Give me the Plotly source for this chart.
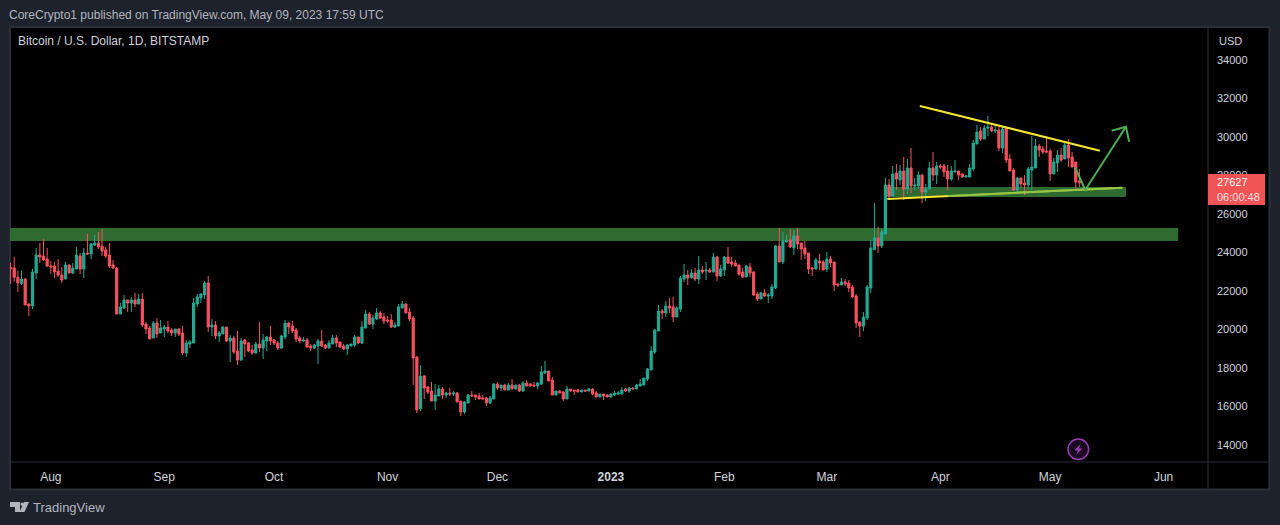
import pandas as pd
import plotly.graph_objects as go

START_DATE = "2022-07-21"

open_ = [
 23230,23195,22710,22398,22623,21324,21220,22935,23870,23818,
 23663,23299,23299,23039,22831,22623,23351,22935,23143,23818,
 23143,23974,23922,24390,24494,24338,24130,23870,23351,23195,
 20805,21116,21532,21376,21532,21324,21584,20285,20077,19558,
 20337,19818,20025,20129,19974,19818,20025,19818,18778,19246,
 19298,21324,21636,21792,22415,20129,20233,19662,19766,20129,
 19402,19558,18882,18415,19454,19298,18934,18778,19246,19038,
 19402,19610,19454,19298,19038,19610,20337,20181,19973,19558,
 19402,19454,19142,19038,19142,19402,19194,19038,19246,19558,
 19350,19142,18986,19142,19194,19610,19298,20077,20805,20285,
 20545,20857,20649,20493,20493,20129,20181,21117,21324,20909,
 20597,18570,15869,17584,17012,16805,16285,16545,16909,16597,
 16701,16649,16701,16285,15713,16181,16597,16597,16545,16441,
 16441,16181,16389,17168,16961,17116,16857,17116,16909,17116,
 16805,17220,17168,17116,17064,17168,17740,17844,17376,16597,
 16805,16753,16389,16909,16857,16857,16753,16857,16805,16909,
 16701,16493,16649,16597,16493,16597,16649,16649,16909,16805,
 16961,16909,17064,17116,17428,17896,18831,19922,20961,20857,
 21220,21168,20649,21065,22623,22831,22675,22935,22623,23091,
 23039,23091,22987,23766,22779,23091,23766,23507,23455,23351,
 22987,22727,23247,22987,21844,21584,21896,21740,21740,22156,
 24338,23507,24546,24650,24234,24858,24494,24234,23974,23195,
 23143,23559,23507,23143,23663,23507,22364,22312,22467,22415,
 22208,21740,20389,20181,20597,22156,24150,24752,24336,24960,
 27506,26934,28130,27766,28233,27298,28389,27454,27454,28025,
 27142,27298,28389,28025,28493,28493,28233,27818,28181,28233,
 28077,27921,27921,28337,29636,30312,29896,30467,30519,30312,
 30364,29428,30467,28857,28285,27246,27870,27610,27506,28285,
 28389,29532,29376,29272,29272,28077,28649,29065,28857,29584,
 28961,28701,27714]

high = [
 23472,23784,23056,23056,22675,21359,23143,24234,24494,24702,
 24234,23559,23507,23663,23247,23507,23403,23455,24286,23974,
 24234,24962,24494,24910,25065,25221,24286,24494,23611,23247,
 21376,21792,21532,21688,21896,21844,21896,20389,20181,20441,
 20597,20493,20233,20441,20077,20025,20077,20181,19454,19454,
 21636,21844,21896,22519,22779,20545,20441,19921,20181,20129,
 19714,19662,19921,19558,19506,19350,19194,19350,20389,19766,
 19662,20181,19506,19402,19714,20493,20389,20441,20077,19662,
 19610,19558,19246,19246,19506,19973,19246,19454,19714,19714,
 19350,19246,19246,19246,19714,19610,20441,21013,20909,20753,
 21117,20961,20857,20701,20805,20389,21324,21480,21376,21117,
 20701,18622,18155,17636,17065,17272,17168,17116,17012,16753,
 16961,16805,16753,16285,16285,16649,16805,16597,16701,16597,
 16493,16545,17220,17272,17116,17168,17220,17428,17116,17168,
 17324,17376,17220,17272,17272,18104,18363,17844,17532,16805,
 16857,16805,17064,16909,16857,16909,16857,16857,16961,16961,
 16805,16649,16649,16649,16649,16805,16805,17012,16961,17012,
 17012,17168,17428,17480,18000,19143,20026,21273,21065,21480,
 21636,21688,21220,22779,23403,23091,23143,23195,23818,23299,
 23507,23195,23974,23818,23351,23818,24286,23766,23611,23351,
 23195,23351,23455,23039,21948,21948,22104,21896,22364,24390,
 25273,25065,24910,25221,25169,25273,24494,24598,23974,23247,
 23715,23922,23611,24026,23818,23507,22415,22675,22623,22571,
 22312,21844,20389,20909,22312,24650,26570,25323,25220,27870,
 27818,28493,28597,28545,28961,28857,29428,27870,28233,28077,
 27558,28701,29220,28701,28597,28597,28545,28493,28805,28233,
 28129,28025,28597,29844,30623,30519,30623,31091,30727,30623,
 30519,30519,30519,29117,28389,27922,27870,28025,28441,30052,
 29896,29636,29532,30052,29376,28909,29324,29428,29792,29896,
 29220,28701,28337]

low = [
 22364,22485,21948,22312,21272,20701,21065,22623,23455,23559,
 23247,22883,22675,22727,22415,22623,22935,22883,23143,22883,
 22675,23870,23663,24338,24182,23818,23715,23195,23143,20805,
 20805,21065,20909,20909,21168,21324,20129,19766,19506,19558,
 19558,19818,19610,19818,19662,19610,19662,18674,18570,19038,
 19298,21168,21376,21584,19870,19662,19506,19350,19766,19350,
 18311,18726,18155,18363,18570,18830,18674,18726,18830,18467,
 18882,19194,19194,18934,18986,19506,19766,19818,19350,19298,
 19350,19038,18882,18986,18207,19090,18986,19038,19246,19090,
 19038,18934,18674,19142,19090,19246,19246,20077,20233,20025,
 20493,20545,20285,20337,20077,20077,20181,21117,20857,20441,
 17115,15661,15765,16389,16649,16285,15817,16545,16389,16441,
 16545,16545,16233,15506,15609,16181,16493,16337,16389,16389,
 16025,16129,16389,16857,16805,16857,16857,16909,16909,16753,
 16753,17064,17064,17064,16909,17116,17688,17324,16597,16597,
 16701,16285,16389,16753,16597,16753,16753,16753,16805,16597,
 16493,16493,16337,16493,16493,16545,16597,16649,16753,16701,
 16909,16909,17064,17116,17324,17896,18727,19922,20545,20649,
 20857,20389,20649,20909,22467,22312,22675,22519,22364,22883,
 22571,22935,22987,22519,22727,22779,23403,23247,23299,22779,
 22675,22727,22727,21740,21480,21584,21688,21376,21584,22104,
 23507,23403,24494,24234,23870,24182,23611,23663,22883,22779,
 23091,23091,23091,22987,23247,22000,22208,22312,22260,21948,
 21636,20077,19610,19922,20493,21896,24128,23973,24232,24960,
 26726,26934,27246,27506,26726,27038,27090,27246,27298,26571,
 26674,27298,27714,27558,28337,27922,27246,27714,28181,27766,
 27870,27921,27921,28233,29636,29792,29896,30052,30260,30208,
 29272,29168,28649,28233,27194,27142,27350,26986,27298,27246,
 28389,28961,29116,29168,27714,28077,28181,28701,28857,28441,
 28441,27298,27400]

close = [
 23143,22710,22415,22623,21272,21220,22987,23870,23766,23611,
 23299,23247,22987,22831,22571,23351,22935,23195,23870,23143,
 23974,23922,24442,24494,24286,24078,23818,23299,23195,20805,
 21168,21532,21376,21532,21324,21584,20233,20025,19506,20337,
 19766,20077,20129,19922,19818,20025,19766,18778,19298,19350,
 21376,21688,21844,22415,20129,20233,19662,19817,20129,19402,
 19558,18830,18415,19402,19246,18882,18778,19246,19038,19454,
 19610,19402,19298,19038,19662,20337,20129,19921,19506,19402,
 19454,19090,19038,19194,19402,19142,19038,19298,19558,19298,
 19090,18986,19194,19246,19610,19298,20129,20805,20285,20597,
 20857,20597,20441,20441,20129,20233,21168,21324,20857,20545,
 18518,15816,17583,16961,16753,16285,16597,16909,16597,16701,
 16649,16701,16233,15713,16233,16597,16545,16493,16389,16389,
 16181,16441,17168,16961,17116,16857,17116,16909,17116,16805,
 17220,17064,17064,17064,17220,17792,17844,17324,16597,16805,
 16701,16389,16909,16805,16805,16753,16857,16805,16909,16649,
 16493,16649,16545,16493,16649,16701,16701,16857,16805,16961,
 16909,17116,17168,17480,17948,18883,19974,20961,20857,21220,
 21116,20649,21116,22675,22831,22675,22935,22623,23091,22987,
 23091,22987,23766,22779,23143,23766,23455,23403,23299,22883,
 22727,23299,22935,21792,21584,21896,21740,21792,22208,24338,
 23507,24598,24650,24286,24858,24442,24182,23922,23143,23143,
 23611,23455,23091,23663,23455,22312,22312,22467,22364,22156,
 21688,20337,20181,20649,22208,24234,24752,24336,25064,27506,
 26934,28077,27818,28233,27298,28389,27454,27506,28025,27142,
 27298,28389,28025,28493,28441,28181,27818,28233,28233,28025,
 27921,27974,28389,29688,30260,29896,30467,30519,30312,30364,
 29428,30415,28805,28233,27246,27870,27558,27506,28337,28441,
 29532,29324,29220,29220,28077,28701,29065,28805,29584,28909,
 28441,27662,27627]

assert len(open_) == len(high) == len(low) == len(close) == 293

month_ticks = ["2022-08-01","2022-09-01","2022-10-01","2022-11-01","2022-12-01",
               "2023-01-01","2023-02-01","2023-03-01","2023-04-01","2023-05-01","2023-06-01"]
month_labels = ["Aug","Sep","Oct","Nov","Dec","<b>2023</b>","Feb","Mar","Apr","May","Jun"]
price_ticks = [14000,16000,18000,20000,22000,24000,26000,28000,30000,32000,34000]

upper_trend_x = ["2023-03-26 10:00","2023-05-14 14:00"]
upper_trend_y = [31611,29289]
lower_trend_x = ["2023-03-17 12:00","2023-05-20 17:00"]
lower_trend_y = [26780,27367]
overlay_x = ["2023-04-03 02:00","2023-05-20 17:00"]
overlay_y = [26932,27367]
arrow_x = ["2023-05-07 19:00","2023-05-10 14:00","2023-05-21 17:00"]
arrow_y = [28427,27247,30536]
head_x = ["2023-05-17 19:00","2023-05-21 17:00","2023-05-22 14:00"]
head_y = [30328,30536,29756]
zone_a = dict(x0="2022-07-01", x1="2023-06-05", y0=24598, y1=25273)
zone_b = dict(x0="2023-03-17 06:00", x1="2023-05-21 17:00", y0=26882, y1=27402)

BG = "#1e222d"; PANE = "#000000"; BORDER = "#2a2e39"; UP = "#22ab94"; DOWN = "#f7525f"
TAG = "#f05454"; TXT = "#d1d4dc"; FONT = "Liberation Sans"
L, R, T, B = 10, 1208, 27, 462
def px(x): return (x - L) / (R - L)
def py(y): return (B - y) / (B - T)

dates = pd.date_range(START_DATE, periods=len(open_), freq="D")

fig = go.Figure()
fig.add_trace(go.Candlestick(
    x=dates, open=open_, high=high, low=low, close=close,
    increasing=dict(line=dict(color=UP, width=1), fillcolor=UP),
    decreasing=dict(line=dict(color=DOWN, width=1), fillcolor=DOWN),
    whiskerwidth=0, showlegend=False))
YEL = "#f7e733"; GRN = "#4caf50"
fig.add_trace(go.Scatter(x=upper_trend_x, y=upper_trend_y, mode="lines", line=dict(color=YEL, width=2), showlegend=False))
fig.add_trace(go.Scatter(x=lower_trend_x, y=lower_trend_y, mode="lines", line=dict(color=YEL, width=2), showlegend=False))
fig.add_trace(go.Scatter(x=overlay_x, y=overlay_y, mode="lines", line=dict(color="rgba(76,175,80,0.6)", width=2), showlegend=False))
fig.add_trace(go.Scatter(x=arrow_x, y=arrow_y, mode="lines", line=dict(color=GRN, width=2), showlegend=False))
fig.add_trace(go.Scatter(x=head_x, y=head_y, mode="lines", line=dict(color=GRN, width=2), showlegend=False))

shapes = []
for z in (zone_a, zone_b):
    shapes.append(dict(type="rect", xref="x", yref="y", layer="below", fillcolor="#2f6b30",
                       line=dict(width=0), **z))
# pane frame
shapes.append(dict(type="rect", xref="paper", yref="paper", layer="below", x0=px(10), x1=px(1269.5), y0=py(489.5), y1=py(27),
                   fillcolor=PANE, line=dict(color=BORDER, width=2)))
for a in [dict(x0=px(1208), x1=px(1208), y0=py(27), y1=py(489.5)),
          dict(x0=px(10), x1=px(1269.5), y0=py(462), y1=py(462))]:
    shapes.append(dict(type="line", xref="paper", yref="paper", layer="above", line=dict(color=BORDER, width=1), **a))
# last price tag
shapes.append(dict(type="rect", xref="paper", yref="paper", layer="above", x0=px(1208), x1=px(1265), y0=py(205), y1=py(174),
                   fillcolor=TAG, line=dict(width=0)))
# lightning badge
shapes.append(dict(type="circle", xref="paper", yref="paper", layer="above",
                   x0=px(1068), x1=px(1088.6), y0=py(459.6), y1=py(439), fillcolor="#1c0a22",
                   line=dict(color="#9a3fb5", width=1.5)))
def path(pts):
    return "M" + " L".join(f"{px(a):.5f},{py(b):.5f}" for a, b in pts) + " Z"
shapes.append(dict(type="path", xref="paper", yref="paper", layer="above", line=dict(width=0), fillcolor="#9a3fb5",
                   path=path([(1080.5,444),(1074.5,450.5),(1078,450.5),(1076,455),(1082.5,448.5),(1079,448.5)])))
# TradingView logo
LOGO = "#b2b5be"
shapes.append(dict(type="path", xref="paper", yref="paper", layer="above", line=dict(width=0), fillcolor=LOGO,
                   path=path([(10,502),(20,502),(20,512),(15,512),(15,507),(10,507)])))
shapes.append(dict(type="path", xref="paper", yref="paper", layer="above", line=dict(width=0), fillcolor=LOGO,
                   path=path([(24,502),(29,502),(24.5,512),(19.5,512)])))
shapes.append(dict(type="circle", xref="paper", yref="paper", layer="above", line=dict(width=0), fillcolor=LOGO,
                   x0=px(20.5), x1=px(24), y0=py(506), y1=py(502.5)))

def text(x, y, s, size=12, color=TXT, **kw):
    return dict(xref="paper", yref="paper", x=px(x), y=py(y), text=s, showarrow=False, xanchor="left", yanchor="middle",
                font=dict(size=size, color=color, family=FONT), **kw)
annotations = [
    text(7, 15, "CoreCrypto1 published on TradingView.com, May 09, 2023 17:59 UTC", color="#b2b5be"),
    text(16, 41, "Bitcoin / U.S. Dollar, 1D, BITSTAMP"),
    text(1216.5, 41, "USD", size=11),
    text(31, 507, "TradingView", size=13, color="#b2b5be"),
    text(1215, 182, "27627", size=11, color="#ffffff"),
    text(1215, 197, "06:00:48", size=11, color="#fde0e2"),
]

fig.update_layout(
    width=1280, height=525, autosize=False, boxgap=0.15,
    margin=dict(l=L, r=1280-R, t=T, b=525-B, pad=0),
    paper_bgcolor=BG, plot_bgcolor=PANE, showlegend=False, shapes=shapes, annotations=annotations,
    font=dict(family=FONT, size=12, color=TXT),
    xaxis=dict(type="date", range=["2022-07-20 20:24","2023-06-13 03:00"], rangeslider=dict(visible=False),
               tickmode="array", tickvals=month_ticks, ticktext=month_labels, showgrid=False, zeroline=False,
               showline=False, ticks="", tickangle=0, ticklabelstandoff=6, tickfont=dict(size=12, color=TXT)),
    yaxis=dict(side="right", range=[13117,35714], tickmode="array", tickvals=price_ticks, tickformat="d",
               showgrid=False, zeroline=False, showline=False, ticks="", ticklabelstandoff=8, tickfont=dict(size=11, color=TXT)),
)
fig.write_html("out.html", config={"displayModeBar": False},
               post_script="document.body.style.margin='0';document.body.style.overflow='hidden';")
